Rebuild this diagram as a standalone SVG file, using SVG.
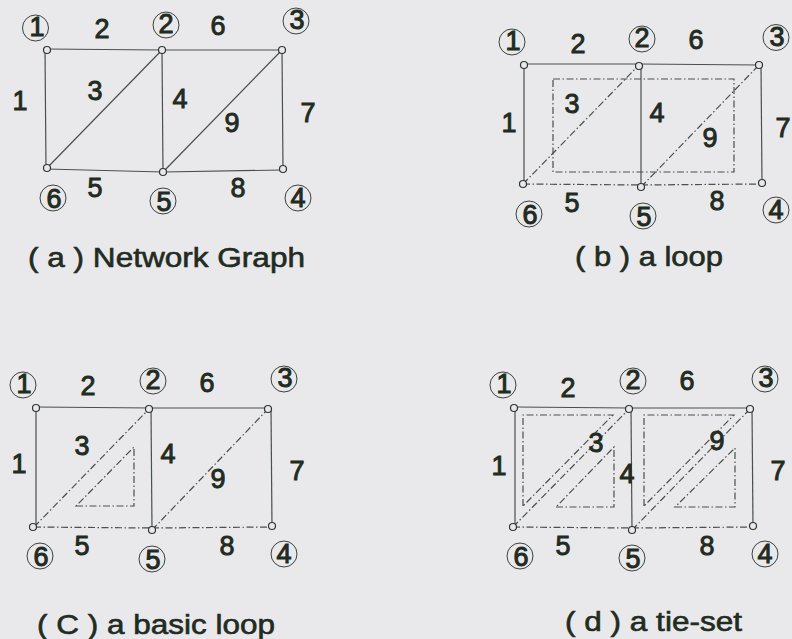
<svg xmlns="http://www.w3.org/2000/svg" width="792" height="639" viewBox="0 0 792 639">
<style>
.bg{fill:#e9e9eb}
.e{stroke:#4a504a;stroke-width:1.2;fill:none}
.d{stroke-dasharray:7 2.5 1.5 2.5}
.n{fill:#e9e9eb;stroke:#2e352e;stroke-width:1.2}
.lc{fill:none;stroke:#3a423a;stroke-width:1}
.t{font-family:"Liberation Sans",Arial,Helvetica,sans-serif;font-size:27px;fill:#222b22;stroke:#222b22;stroke-width:0.9;text-anchor:middle}
.ct{font-size:27px;stroke-width:1}
.cap{font-size:27px;stroke-width:0.6}
</style>
<rect class="bg" x="0" y="0" width="792" height="639"/>

<!-- Panel a -->
<g id="panel-a">
<g id="a-connectors">
<line class="e" x1="45" y1="49" x2="162" y2="50"/>
<line class="e" x1="162" y1="50" x2="282" y2="50"/>
<line class="e" x1="45" y1="49" x2="46" y2="169"/>
<line class="e" x1="46" y1="169" x2="162" y2="50"/>
<line class="e" x1="162" y1="50" x2="163" y2="172"/>
<line class="e" x1="46" y1="169" x2="163" y2="172"/>
<line class="e" x1="163" y1="172" x2="283" y2="170"/>
<line class="e" x1="163" y1="172" x2="282" y2="50"/>
<line class="e" x1="282" y1="50" x2="283" y2="170"/>
</g>
<g id="a-n1"><circle class="n" cx="47" cy="50" r="3.5"/><circle class="lc" cx="35.5" cy="28" r="13"/><text class="t ct" x="37" y="36">1</text></g>
<g id="a-n2"><circle class="n" cx="162" cy="50" r="3.5"/><circle class="lc" cx="166" cy="25" r="13"/><text class="t ct" x="166" y="33">2</text></g>
<g id="a-n3"><circle class="n" cx="282" cy="50" r="3.5"/><circle class="lc" cx="296" cy="21" r="13"/><text class="t ct" x="297" y="29">3</text></g>
<g id="a-n4"><circle class="n" cx="283" cy="169" r="3.5"/><circle class="lc" cx="298" cy="198" r="13"/><text class="t ct" x="298" y="207">4</text></g>
<g id="a-n5"><circle class="n" cx="163" cy="172" r="3.5"/><circle class="lc" cx="163" cy="201" r="13"/><text class="t ct" x="164" y="211">5</text></g>
<g id="a-n6"><circle class="n" cx="47" cy="168" r="3.5"/><circle class="lc" cx="53" cy="198" r="13"/><text class="t ct" x="54" y="208">6</text></g>
<g id="a-labels">
<text class="t" x="20" y="110">1</text>
<text class="t" x="102" y="38">2</text>
<text class="t" x="95" y="100">3</text>
<text class="t" x="180" y="108">4</text>
<text class="t" x="95" y="197">5</text>
<text class="t" x="218" y="35">6</text>
<text class="t" x="308" y="122">7</text>
<text class="t" x="238" y="197">8</text>
<text class="t" x="232" y="132">9</text>
<text class="t cap" x="166.5" y="267" textLength="277" lengthAdjust="spacingAndGlyphs">( a ) Network Graph</text>
</g>
</g>

<!-- Panel b -->
<g id="panel-b">
<g id="b-connectors">
<line class="e" x1="524" y1="64" x2="639" y2="64"/>
<line class="e" x1="639" y1="64" x2="759" y2="65"/>
<line class="e" x1="524" y1="64" x2="524" y2="184"/>
<line class="e" x1="641" y1="65" x2="641" y2="187"/>
<line class="e" x1="761" y1="65" x2="762" y2="184"/>
<line class="e d" x1="523" y1="184" x2="639" y2="65"/>
<line class="e d" x1="641" y1="187" x2="759" y2="65"/>
<line class="e d" x1="523" y1="184" x2="641" y2="185"/>
<line class="e d" x1="641" y1="185" x2="762" y2="184"/>
<rect class="e d" x="553" y="79" width="181" height="93"/>
</g>
<g id="b-n1"><circle class="n" cx="524" cy="65" r="3.5"/><circle class="lc" cx="512" cy="42" r="13"/><text class="t ct" x="513" y="50">1</text></g>
<g id="b-n2"><circle class="n" cx="639" cy="66" r="3.5"/><circle class="lc" cx="642" cy="39" r="13"/><text class="t ct" x="642" y="47">2</text></g>
<g id="b-n3"><circle class="n" cx="759" cy="65" r="3.5"/><circle class="lc" cx="776" cy="37.5" r="13"/><text class="t ct" x="777" y="46">3</text></g>
<g id="b-n4"><circle class="n" cx="762" cy="183" r="3.5"/><circle class="lc" cx="776" cy="210" r="13"/><text class="t ct" x="776" y="219">4</text></g>
<g id="b-n5"><circle class="n" cx="641" cy="187" r="3.5"/><circle class="lc" cx="643" cy="216" r="13"/><text class="t ct" x="644" y="226">5</text></g>
<g id="b-n6"><circle class="n" cx="523" cy="184" r="3.5"/><circle class="lc" cx="529" cy="214" r="13"/><text class="t ct" x="530" y="224">6</text></g>
<g id="b-labels">
<text class="t" x="509" y="132">1</text>
<text class="t" x="578" y="53">2</text>
<text class="t" x="572" y="113">3</text>
<text class="t" x="657" y="122">4</text>
<text class="t" x="572" y="212">5</text>
<text class="t" x="696" y="49">6</text>
<text class="t" x="783" y="137">7</text>
<text class="t" x="717" y="210">8</text>
<text class="t" x="710" y="147">9</text>
<text class="t cap" x="649" y="266" textLength="148" lengthAdjust="spacingAndGlyphs">( b ) a loop</text>
</g>
</g>

<!-- Panel c -->
<g id="panel-c">
<g id="c-connectors">
<line class="e" x1="36" y1="407" x2="151" y2="408"/>
<line class="e" x1="151" y1="408" x2="270" y2="408"/>
<line class="e" x1="36" y1="407" x2="36" y2="527"/>
<line class="e" x1="151" y1="408" x2="152" y2="530"/>
<line class="e" x1="271" y1="408" x2="272" y2="527"/>
<line class="e d" x1="34" y1="527" x2="149" y2="409"/>
<line class="e d" x1="152" y1="530" x2="268" y2="409"/>
<line class="e d" x1="34" y1="527" x2="152" y2="528"/>
<line class="e d" x1="152" y1="528" x2="272" y2="527"/>
<polygon class="e d" points="76,506 134,506 134,447"/>
</g>
<g id="c-n1"><circle class="n" cx="36" cy="408" r="3.5"/><circle class="lc" cx="23" cy="385" r="13"/><text class="t ct" x="24" y="393">1</text></g>
<g id="c-n2"><circle class="n" cx="149" cy="409" r="3.5"/><circle class="lc" cx="153" cy="381" r="13"/><text class="t ct" x="153" y="389">2</text></g>
<g id="c-n3"><circle class="n" cx="268" cy="409" r="3.5"/><circle class="lc" cx="284" cy="379" r="13"/><text class="t ct" x="285" y="387">3</text></g>
<g id="c-n4"><circle class="n" cx="272" cy="526" r="3.5"/><circle class="lc" cx="284" cy="554" r="13"/><text class="t ct" x="284" y="563">4</text></g>
<g id="c-n5"><circle class="n" cx="152" cy="530" r="3.5"/><circle class="lc" cx="152" cy="559" r="13"/><text class="t ct" x="153" y="569">5</text></g>
<g id="c-n6"><circle class="n" cx="33" cy="527" r="3.5"/><circle class="lc" cx="40" cy="556" r="13"/><text class="t ct" x="41" y="566">6</text></g>
<g id="c-labels">
<text class="t" x="19" y="473">1</text>
<text class="t" x="88" y="395">2</text>
<text class="t" x="82" y="455">3</text>
<text class="t" x="168" y="463">4</text>
<text class="t" x="82" y="555">5</text>
<text class="t" x="207" y="392">6</text>
<text class="t" x="297" y="480">7</text>
<text class="t" x="227" y="555">8</text>
<text class="t" x="218" y="488">9</text>
<text class="t cap" x="156" y="634" textLength="238" lengthAdjust="spacingAndGlyphs">( C ) a basic loop</text>
</g>
</g>

<!-- Panel d -->
<g id="panel-d">
<g id="d-connectors">
<line class="e" x1="515" y1="407" x2="630" y2="408"/>
<line class="e" x1="630" y1="408" x2="751" y2="408"/>
<line class="e" x1="515" y1="407" x2="515" y2="527"/>
<line class="e" x1="631" y1="408" x2="632" y2="530"/>
<line class="e" x1="752" y1="408" x2="753" y2="527"/>
<line class="e d" x1="513" y1="527" x2="629" y2="409"/>
<line class="e d" x1="632" y1="530" x2="750" y2="409"/>
<line class="e d" x1="513" y1="527" x2="632" y2="528"/>
<line class="e d" x1="632" y1="528" x2="753" y2="527"/>
<polygon class="e d" points="523,506 523,415 613,415"/>
<polygon class="e d" points="556,507 614,507 614,447"/>
<polygon class="e d" points="644,506 644,415 734,415"/>
<polygon class="e d" points="675,507 735,507 735,448"/>
</g>
<g id="d-n1"><circle class="n" cx="514" cy="408" r="3.5"/><circle class="lc" cx="503" cy="385" r="13"/><text class="t ct" x="504" y="393">1</text></g>
<g id="d-n2"><circle class="n" cx="629" cy="409" r="3.5"/><circle class="lc" cx="633" cy="381" r="13"/><text class="t ct" x="633" y="389">2</text></g>
<g id="d-n3"><circle class="n" cx="750" cy="409" r="3.5"/><circle class="lc" cx="765" cy="379" r="13"/><text class="t ct" x="766" y="387">3</text></g>
<g id="d-n4"><circle class="n" cx="753" cy="526" r="3.5"/><circle class="lc" cx="765" cy="554" r="13"/><text class="t ct" x="765" y="563">4</text></g>
<g id="d-n5"><circle class="n" cx="632" cy="530" r="3.5"/><circle class="lc" cx="632" cy="558" r="13"/><text class="t ct" x="633" y="568">5</text></g>
<g id="d-n6"><circle class="n" cx="513" cy="527" r="3.5"/><circle class="lc" cx="520" cy="556" r="13"/><text class="t ct" x="521" y="566">6</text></g>
<g id="d-labels">
<text class="t" x="499" y="475">1</text>
<text class="t" x="568" y="397">2</text>
<text class="t" x="596" y="452">3</text>
<text class="t" x="627" y="483">4</text>
<text class="t" x="563" y="555">5</text>
<text class="t" x="687" y="390">6</text>
<text class="t" x="778" y="480">7</text>
<text class="t" x="707" y="555">8</text>
<text class="t" x="717" y="450">9</text>
<text class="t cap" x="653.5" y="631" textLength="177" lengthAdjust="spacingAndGlyphs">( d ) a tie-set</text>
</g>
</g>
</svg>
